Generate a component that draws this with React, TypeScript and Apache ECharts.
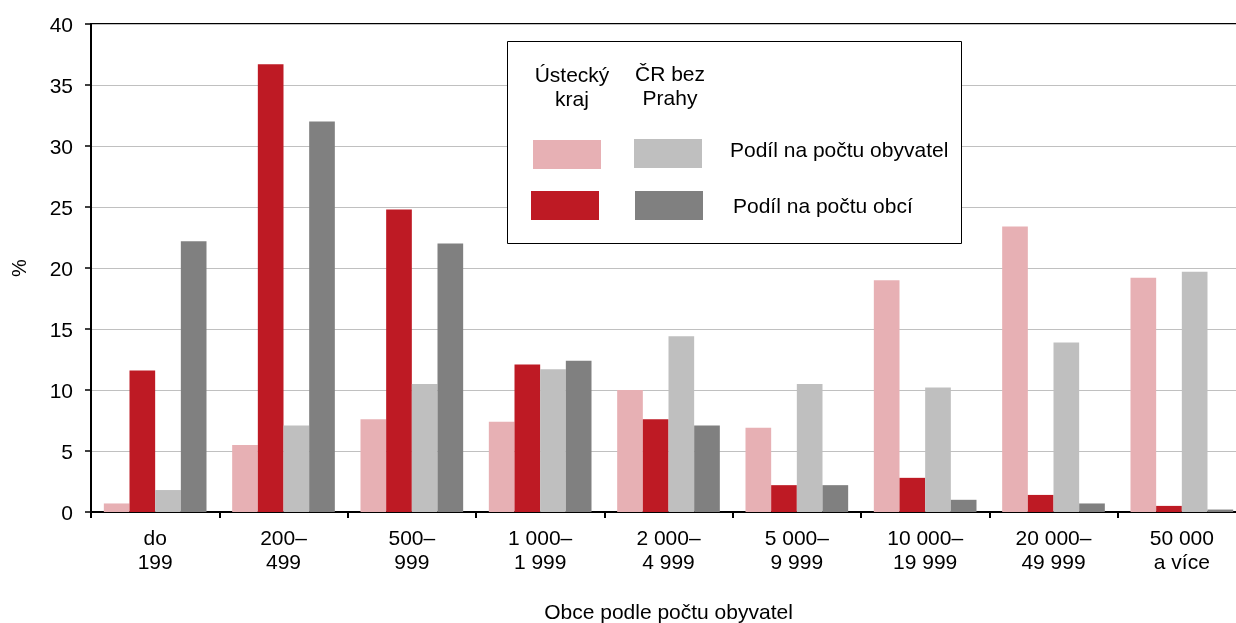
import React, { useEffect, useRef } from "react";
import * as echarts from "echarts";

const categories = [
  "do\n199",
  "200–\n499",
  "500–\n999",
  "1 000–\n1 999",
  "2 000–\n4 999",
  "5 000–\n9 999",
  "10 000–\n19 999",
  "20 000–\n49 999",
  "50 000\na více",
];

const usteckyObyvatel = [0.7, 5.5, 7.6, 7.4, 10.0, 6.9, 19.0, 23.4, 19.2];
const usteckyObci = [11.6, 36.7, 24.8, 12.1, 7.6, 2.2, 2.8, 1.4, 0.5];
const crObyvatel = [1.8, 7.1, 10.5, 11.7, 14.4, 10.5, 10.2, 13.9, 19.7];
const crObci = [22.2, 32.0, 22.0, 12.4, 7.1, 2.2, 1.0, 0.7, 0.2];

const yTicks = { min: 0, max: 40, interval: 5 };

const C_PINK = "#E7B0B4";
const C_RED = "#BE1A24";
const C_LGRAY = "#BFBFBF";
const C_DGRAY = "#808080";
const FONT = "'Liberation Sans', Arial, sans-serif";

export default function App() {
  const ref = useRef<HTMLDivElement>(null);
  useEffect(() => {
    if (!ref.current) return;
    document.body.style.margin = "0";
    document.body.style.overflow = "hidden";
    const chart = echarts.init(ref.current, undefined, { renderer: "svg" });
    const mk = (name: string, data: number[], color: string) => ({
      name,
      type: "bar",
      data,
      barGap: "0%",
      barCategoryGap: "20%",
      itemStyle: { color },
    });
    const txt = (text: string, x: number, y: number, align: string, lh = 24) => ({
      type: "text",
      x,
      y,
      z: 102,
      style: {
        text,
        fill: "#000",
        font: `21px ${FONT}`,
        align,
        verticalAlign: "middle",
        lineHeight: lh,
      },
    });
    const sw = (x: number, y: number, color: string) => ({
      type: "rect",
      z: 101,
      shape: { x, y, width: 68, height: 29 },
      style: { fill: color },
    });
    chart.setOption({
      animation: false,
      textStyle: { fontFamily: FONT },
      grid: {
        left: 91,
        top: 24,
        width: 1155,
        height: 488,
        containLabel: false,
        outerBoundsMode: "none",
        show: true,
        borderColor: "#000",
        borderWidth: 2,
        backgroundColor: "transparent",
      },
      xAxis: {
        type: "category",
        data: categories,
        name: "Obce podle počtu obyvatel",
        nameLocation: "middle",
        nameGap: 89,
        nameTextStyle: { fontSize: 21, color: "#000", fontFamily: FONT },
        axisLine: { lineStyle: { color: "#000", width: 2 } },
        axisTick: { show: true, length: 6, lineStyle: { color: "#000", width: 2 } },
        axisLabel: {
          color: "#000",
          fontSize: 21,
          lineHeight: 24.5,
          margin: 13,
          interval: 0,
          fontFamily: FONT,
        },
      },
      yAxis: {
        type: "value",
        min: yTicks.min,
        max: yTicks.max,
        interval: yTicks.interval,
        name: "%",
        nameLocation: "middle",
        nameGap: 62,
        nameTextStyle: { fontSize: 20, color: "#000", fontFamily: FONT },
        axisLine: { show: true, lineStyle: { color: "#000", width: 2 } },
        axisTick: { show: true, length: 6, lineStyle: { color: "#000", width: 1.5 } },
        axisLabel: { color: "#000", fontSize: 21, margin: 18, fontFamily: FONT },
        splitLine: { show: true, lineStyle: { color: "#C0C0C0", width: 1 } },
      },
      series: [
        mk("Ústecký kraj – Podíl na počtu obyvatel", usteckyObyvatel, C_PINK),
        mk("Ústecký kraj – Podíl na počtu obcí", usteckyObci, C_RED),
        mk("ČR bez Prahy – Podíl na počtu obyvatel", crObyvatel, C_LGRAY),
        mk("ČR bez Prahy – Podíl na počtu obcí", crObci, C_DGRAY),
      ],
      graphic: [
        {
          type: "rect",
          shape: { x: 507.5, y: 41.5, width: 454, height: 202 },
          style: { fill: "#fff", stroke: "#000", lineWidth: 1 },
          z: 100,
        },
        sw(533, 140, C_PINK),
        sw(634, 139, C_LGRAY),
        sw(531, 191, C_RED),
        sw(635, 191, C_DGRAY),
        txt("Ústecký\nkraj", 572, 86, "center"),
        txt("ČR bez\nPrahy", 670, 85, "center"),
        txt("Podíl na počtu obyvatel", 730, 149, "left"),
        txt("Podíl na počtu obcí", 733, 205.5, "left"),
      ],
    });
    return () => chart.dispose();
  }, []);
  return (
    <div
      style={{ position: "fixed", left: 0, top: 0, width: 1236, height: 623, overflow: "hidden" }}
    >
      <div ref={ref} style={{ width: 1236, height: 623 }} />
    </div>
  );
}
